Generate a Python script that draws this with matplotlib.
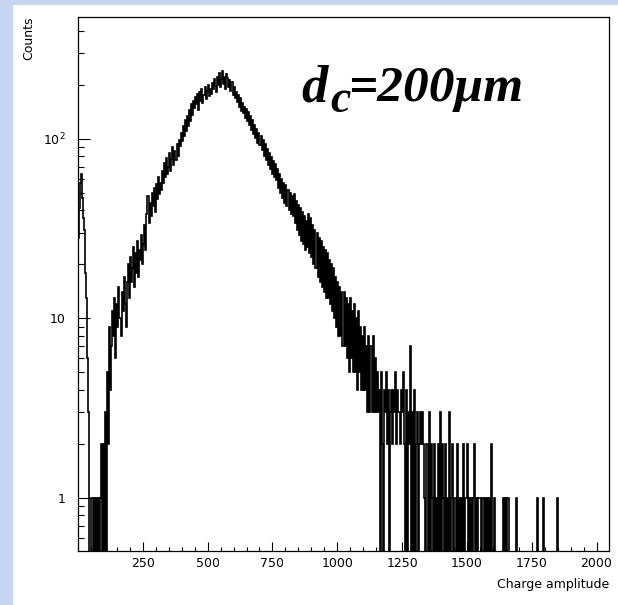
import numpy as np
import matplotlib
matplotlib.use("Agg")
import matplotlib.pyplot as plt
from matplotlib.patches import Rectangle

# histogramme de l'amplitude de charge, bins de 4 canaux a partir de 0
bin_width = 4
counts = [
    28, 41, 57, 64, 47, 36, 31, 18, 13, 6, 3, 0, 0, 1, 0, 1,
    0, 1, 0, 1, 0, 1, 2, 0, 2, 0, 3, 0, 5, 2, 9, 4,
    7, 11, 8, 13, 6, 12, 9, 15, 10, 8, 14, 11, 17, 12, 9, 16,
    20, 13, 22, 16, 19, 25, 15, 23, 18, 27, 17, 24, 21, 29, 20, 26,
    33, 24, 38, 48, 34, 44, 37, 50, 42, 53, 39, 56, 46, 61, 49, 57,
    52, 66, 57, 73, 61, 78, 64, 70, 83, 66, 77, 90, 71, 85, 76, 93,
    80, 99, 91, 107, 97, 118, 103, 127, 110, 134, 118, 144, 126, 157, 135, 163,
    149, 170, 156, 178, 145, 181, 163, 188, 158, 176, 195, 167, 184, 199, 172, 190,
    178, 203, 190, 215, 196, 183, 222, 200, 231, 193, 214, 237, 201, 220, 189, 228,
    219, 194, 212, 185, 206, 175, 194, 168, 183, 160, 176, 150, 169, 143, 158, 139,
    151, 130, 146, 125, 140, 119, 133, 112, 127, 106, 120, 101, 113, 95, 108, 92,
    104, 86, 98, 80, 93, 76, 88, 71, 83, 68, 79, 64, 75, 61, 72, 59,
    68, 53, 64, 50, 60, 47, 57, 44, 55, 42, 52, 40, 50, 38, 48, 37,
    49, 34, 45, 31, 43, 29, 41, 27, 39, 26, 37, 24, 35, 25, 38, 23,
    36, 22, 33, 20, 31, 19, 30, 17, 28, 16, 27, 15, 25, 14, 24, 13,
    23, 13, 21, 12, 20, 11, 19, 10, 17, 9, 16, 8, 15, 8, 14, 7,
    14, 7, 13, 6, 12, 5, 13, 6, 11, 5, 12, 5, 10, 4, 11, 5,
    9, 4, 8, 4, 9, 4, 7, 3, 8, 3, 7, 3, 8, 3, 6, 3,
    5, 3, 4, 0, 5, 2, 0, 4, 3, 5, 2, 4, 0, 3, 4, 2,
    4, 3, 5, 2, 4, 3, 2, 4, 3, 5, 2, 0, 4, 0, 3, 2,
    7, 0, 3, 0, 4, 0, 2, 3, 0, 2, 3, 2, 3, 2, 1, 0,
    2, 0, 3, 0, 2, 1, 0, 2, 0, 1, 0, 2, 0, 3, 0, 2,
    1, 0, 2, 0, 1, 0, 3, 0, 1, 2, 0, 1, 0, 2, 0, 1,
    0, 1, 0, 2, 0, 1, 1, 2, 0, 1, 0, 1, 0, 1, 2, 0,
    1, 0, 1, 1, 1, 0, 1, 0, 1, 0, 1, 0, 1, 0, 2, 0,
    0, 1, 0, 0, 0, 0, 0, 0, 0, 0, 1, 0, 1, 0, 1, 1,
    0, 0, 0, 0, 0, 0, 1, 0, 0, 0, 0, 0, 0, 0, 0, 0,
    0, 0, 0, 0, 0, 0, 0, 0, 0, 0, 0, 1, 0, 0, 0, 0,
    1, 0, 0, 0, 0, 0, 0, 0, 0, 0, 0, 0, 0, 0, 1, 0,
]
x_ticks = [250, 500, 750, 1000, 1250, 1500, 1750, 2000]
y_ticks = [1, 10, 100]
y_tick_labels = ["1", "10", "10$^{2}$"]

plt.rcParams['mathtext.fontset'] = 'custom'
plt.rcParams['mathtext.rm'] = 'DejaVu Sans'

fig = plt.figure(figsize=(6.18, 6.05), dpi=100)
fig.patch.set_facecolor('#c6d6f0')
# panneau blanc de la diapo
fig.add_artist(Rectangle((13 / 618, 0), 1 - 13 / 618, 1 - 5 / 605,
                         transform=fig.transFigure, facecolor='white',
                         edgecolor='none', zorder=-1))

ax = fig.add_axes([78 / 618, 1 - 551 / 605, 531 / 618, 534 / 605])
edges = np.arange(len(counts) + 1) * bin_width
ax.stairs(counts, edges, color='black', linewidth=1.2)

ax.set_yscale('log')
ax.set_xlim(0, 2048)
ax.set_ylim(0.507, 476)

ax.set_xticks(x_ticks)
ax.set_xticks(np.arange(0, 2050, 50), minor=True)
ax.set_yticks(y_ticks)
ax.set_yticklabels(y_tick_labels)
ax.yaxis.set_minor_formatter(matplotlib.ticker.NullFormatter())

ax.tick_params(which='both', direction='in', top=False, right=False, labelsize=9)
ax.tick_params(axis='x', which='major', length=6.5, width=0.8, pad=4)
ax.tick_params(axis='x', which='minor', length=3, width=0.8)
ax.tick_params(axis='y', which='major', length=8.4, width=0.8, pad=9)
ax.tick_params(axis='y', which='minor', length=4.3, width=0.8)
for s in ax.spines.values():
    s.set_linewidth(0.9)

ax.set_xlabel('Charge amplitude', fontsize=9, loc='right', labelpad=6)
fig.text(29 / 618, 1 - 17 / 605, 'Counts', rotation=90, fontsize=9,
         ha='center', va='top')

# etiquette d_c = 200 um (morceaux places en pixels)
lab = dict(family='Liberation Serif', weight='bold', style='italic',
           ha='left', va='baseline')
fig.text(301 / 618, 1 - 101 / 605, 'd', fontsize=38, **lab)
fig.text(330 / 618, 1 - 112 / 605, 'c', fontsize=33, **lab)
fig.text(348 / 618, 1 - 101 / 605, '=200μm', fontsize=37, **lab)

fig.savefig('out.png', dpi=100, facecolor=fig.get_facecolor())
